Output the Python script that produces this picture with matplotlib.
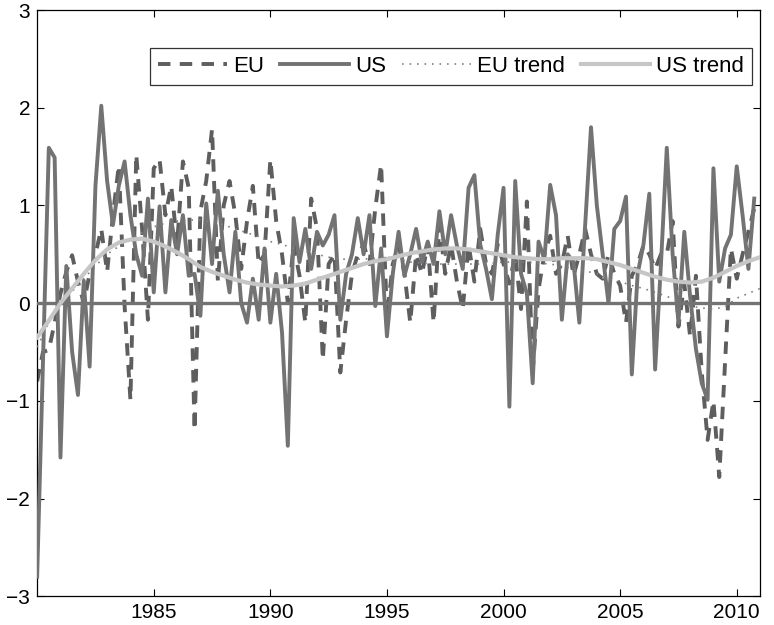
import matplotlib.pyplot as plt
import numpy as np

plt.rcParams["font.family"] = ["Liberation Sans", "DejaVu Sans"]

# quarterly observations, 1980Q1 .. 2010Q4
start_year = 1980
us = [
    -2.80, -0.60, 1.59, 1.49,
    -1.58, 0.38, -0.50, -0.94,
    0.23, -0.65, 1.20, 2.02,
    1.25, 0.80, 1.20, 1.45,
    0.90, 0.50, 0.28, 1.07,
    0.11, 0.99, 0.11, 0.85,
    0.50, 0.90, 0.28, 0.30,
    -0.13, 1.02, 0.40, 1.15,
    0.50, 0.11, 0.73, 0.00,
    -0.20, 0.25, -0.17, 0.56,
    -0.20, 0.30, -0.30, -1.46,
    0.87, 0.42, 0.76, 0.35,
    0.73, 0.59, 0.70, 0.90,
    -0.17, 0.30, 0.50, 0.87,
    0.50, 0.90, -0.03, 0.56,
    -0.34, 0.30, 0.73, 0.28,
    0.50, 0.76, 0.42, 0.63,
    0.40, 0.94, 0.50, 0.90,
    0.59, 0.35, 1.18, 1.31,
    0.60, 0.35, 0.04, 0.70,
    1.18, -1.06, 1.25, 0.30,
    0.10, -0.82, 0.63, 0.45,
    1.21, 0.90, -0.17, 0.50,
    0.42, -0.20, 0.80, 1.80,
    1.00, 0.50, 0.00, 0.76,
    0.84, 1.09, -0.73, 0.30,
    0.60, 1.12, -0.68, 0.40,
    1.59, 0.50, -0.20, 0.73,
    0.07, -0.47, -0.82, -0.99,
    1.38, 0.22, 0.56, 0.70,
    1.40, 0.90, 0.35, 1.07,
]
eu = [
    -0.80, -0.50, -0.48, -0.20,
    0.10, 0.32, 0.49, 0.22,
    0.00, 0.30, 0.50, 0.76,
    0.32, 0.90, 1.41, -0.03,
    -0.99, 1.52, 0.76, -0.17,
    1.38, 1.47, 0.90, 1.20,
    0.60, 1.45, 1.18, -1.30,
    0.94, 1.25, 1.78, 0.22,
    1.00, 1.25, 0.90, 0.35,
    0.84, 1.20, 0.40, 0.50,
    1.47, 0.84, 0.50, 0.00,
    0.60, 0.28, -0.20, 1.07,
    0.76, -0.58, 0.40, 0.50,
    -0.71, -0.17, 0.30, 0.50,
    0.60, 0.40, 0.97, 1.42,
    -0.13, 0.40, 0.60, 0.30,
    -0.20, 0.50, 0.30, 0.60,
    -0.20, 0.80, 0.30, 0.60,
    0.22, -0.06, 0.60, 0.22,
    0.76, 0.40, 0.30, 0.60,
    0.40, 0.20, 0.50, -0.06,
    1.04, -0.70, 0.14, 0.50,
    0.69, 0.30, 0.40, 0.69,
    0.28, 0.50, 0.76, 0.50,
    0.30, 0.25, 0.50, 0.30,
    0.18, -0.20, 0.28, 0.40,
    0.59, 0.50, 0.35, 0.50,
    0.50, 0.84, -0.24, 0.20,
    -0.34, 0.28, -0.71, -1.40,
    -1.00, -1.78, -0.60, 0.56,
    0.25, 0.50, 0.73, 0.97,
]

# smoothed trends, half-yearly from 1980.0 to 2011.0
trend_start = 1980
us_trend = [
    -0.35, -0.18, 0.00, 0.15, 0.30, 0.44, 0.55, 0.62, 0.65, 0.66,
    0.63, 0.58, 0.52, 0.45, 0.37, 0.32, 0.28, 0.24, 0.21, 0.19,
    0.18, 0.17, 0.18, 0.20, 0.24, 0.28, 0.32, 0.36, 0.40, 0.43,
    0.45, 0.48, 0.51, 0.53, 0.55, 0.56, 0.56, 0.55, 0.53, 0.51,
    0.49, 0.47, 0.46, 0.45, 0.45, 0.46, 0.46, 0.46, 0.45, 0.42,
    0.39, 0.35, 0.31, 0.27, 0.24, 0.22, 0.21, 0.22, 0.26, 0.32,
    0.38, 0.43, 0.47,
]
eu_trend = [
    -0.45, -0.20, 0.00, 0.12, 0.25, 0.38, 0.50, 0.58, 0.65, 0.72,
    0.78, 0.82, 0.84, 0.85, 0.85, 0.83, 0.80, 0.76, 0.72, 0.68,
    0.63, 0.60, 0.56, 0.53, 0.50, 0.47, 0.45, 0.45, 0.45, 0.46,
    0.47, 0.45, 0.42, 0.41, 0.40, 0.40, 0.40, 0.40, 0.40, 0.41,
    0.42, 0.42, 0.42, 0.41, 0.40, 0.38, 0.35, 0.33, 0.30, 0.26,
    0.22, 0.18, 0.15, 0.11, 0.07, 0.02, -0.03, -0.05, -0.06, -0.04,
    0.05, 0.10, 0.15,
]

t = start_year + np.arange(len(us)) / 4
t_trend = trend_start + np.arange(len(us_trend)) / 2

fig = plt.figure(figsize=(7.74, 6.25), dpi=100)
ax = fig.add_axes([0.048, 0.046, 0.934, 0.938])

ax.plot(t, eu, color="#5e5e60", lw=2.8, ls=(0, (3.2, 2.4)), label="EU", zorder=2)
ax.plot(t, us, color="#737373", lw=2.8, label="US", zorder=3)
ax.plot(t_trend, eu_trend, color="#808080", lw=1.2, ls=(0, (1, 3.5)), label="EU trend", zorder=4)
ax.plot(t_trend, us_trend, color="#c6c6c6", lw=3.0, label="US trend", zorder=5)
ax.axhline(0, color="#737373", lw=2.4, zorder=4)

ax.set_xlim(1980, 2011)
ax.set_ylim(-3, 3)
ax.set_xticks([1985, 1990, 1995, 2000, 2005, 2010])
ax.set_yticks([-3, -2, -1, 0, 1, 2, 3])
ax.tick_params(direction="in", length=5, width=0.8, labelsize=15,
               top=True, right=True, pad=5)
for s in ax.spines.values():
    s.set_linewidth(0.9)

leg = ax.legend(loc="upper right", ncol=4, fontsize=16, frameon=True, fancybox=False,
                edgecolor="black", borderpad=0.35, handlelength=3.1, handletextpad=0.3,
                columnspacing=0.7, borderaxespad=0, bbox_to_anchor=(0.989, 0.935))
leg.get_frame().set_linewidth(0.9)

fig.savefig("out.png", dpi=100)
